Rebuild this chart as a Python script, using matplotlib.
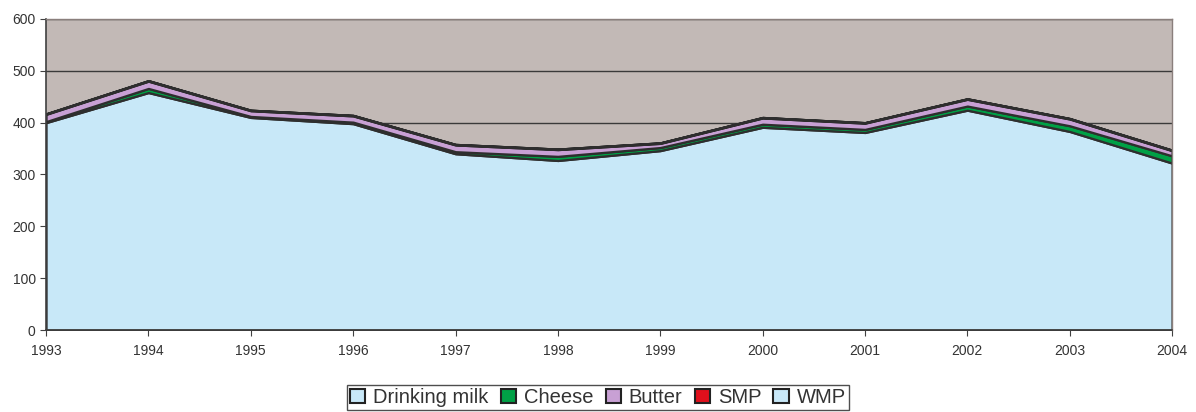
import matplotlib
matplotlib.use("Agg")
import matplotlib.pyplot as plt
from matplotlib.patches import Patch

plt.rcParams['font.family'] = ['Liberation Sans', 'DejaVu Sans']

years = [1993, 1994, 1995, 1996, 1997, 1998, 1999, 2000, 2001, 2002, 2003, 2004]
drinking_milk = [400, 458, 410, 398, 340, 327, 346, 391, 381, 424, 383, 322]
cheese = [2, 8, 2, 3, 4, 8, 6, 6, 6, 8, 11, 14]
butter = [14, 14, 11, 12, 13, 13, 8, 12, 12, 13, 13, 10]
smp = [1, 1, 1, 1, 1, 1, 1, 1, 1, 1, 1, 1]
wmp = [0, 0, 0, 0, 0, 0, 0, 0, 0, 0, 0, 0]

labels = ["Drinking milk", "Cheese", "Butter", "SMP", "WMP"]
colors = ["#c8e8f8", "#00a046", "#c8a0d4", "#e0101c", "#c8e8f8"]

fig = plt.figure(figsize=(11.96, 4.12), dpi=100)
ax = fig.add_axes([0.0385, 0.199, 0.9415, 0.755])
ax.set_facecolor("#c2b9b6")

ax.stackplot(years, drinking_milk, cheese, butter, smp, wmp,
             colors=colors, edgecolor="#2e2e2e", linewidth=1.6, zorder=2)

ax.set_xlim(1993, 2004)
ax.set_ylim(0, 600)
ax.set_xticks(years)
ax.set_yticks(range(0, 700, 100))
ax.yaxis.grid(True, color="#3a3a3a", linewidth=1, zorder=1)
ax.set_axisbelow(True)

for s in ["left", "bottom"]:
    ax.spines[s].set_color("#404040")
    ax.spines[s].set_linewidth(1.2)
for s in ["top", "right"]:
    ax.spines[s].set_color("#8a7f7c")
    ax.spines[s].set_linewidth(1)
ax.tick_params(axis="both", colors="#404040", labelcolor="#333333",
               labelsize=10, length=4, direction="out")
ax.tick_params(axis="x", pad=6)

handles = [Patch(facecolor=c, edgecolor="#222222", linewidth=1.5, label=l)
           for c, l in zip(colors, labels)]
leg = fig.legend(handles=handles, loc="center", bbox_to_anchor=(0.5, 0.035),
                 ncol=5, frameon=True, fancybox=False, fontsize=14.5,
                 handlelength=0.75, handleheight=0.75, handletextpad=0.4,
                 columnspacing=0.6, borderpad=0.15, labelcolor="#333333")
leg.get_frame().set_edgecolor("#222222")
leg.get_frame().set_linewidth(1)

fig.savefig("out.png", dpi=100, facecolor="white")
